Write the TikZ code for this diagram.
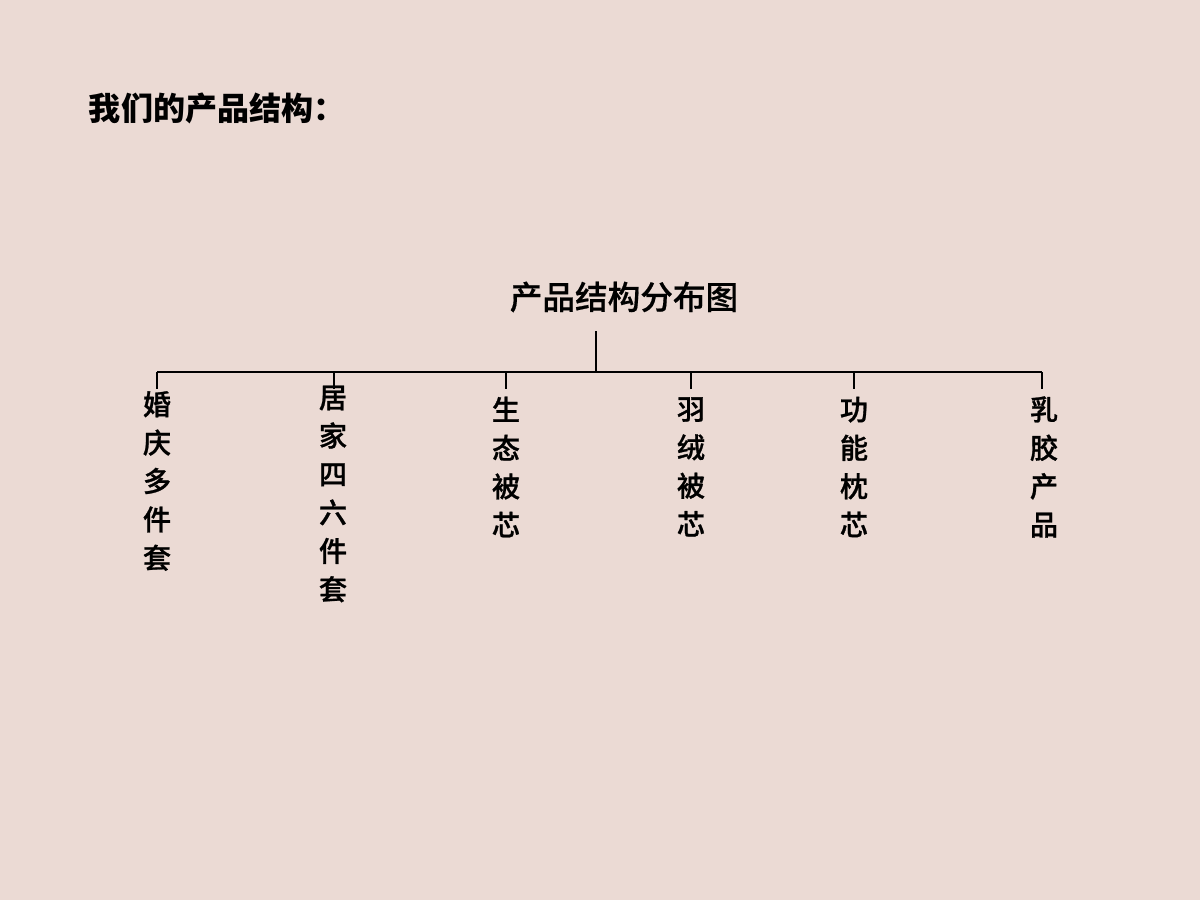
\documentclass[tikz,border=0pt]{standalone}
\usepackage{fontspec}
\usepackage{tikz}
\newfontfamily\cjk{Noto Sans CJK SC}
\newfontfamily\cjkmed[FakeBold=0.9]{Noto Sans CJK SC Medium}
\newfontfamily\cjkroot[FakeBold=0.5]{Noto Sans CJK SC Medium}
\definecolor{bgpink}{HTML}{EBDAD4}

\begin{document}
\begin{tikzpicture}[x=0.025cm, y=-0.025cm, line width=1.4pt,
    item/.style={font=\cjkmed\fontsize{20}{27.3}\selectfont, align=center, inner sep=0pt}]

        \fill [bgpink] (0,0) rectangle (1200,900);
        \useasboundingbox (0,0) rectangle (1200,900);

        \node [anchor=west, inner sep=0pt, font=\cjk\bfseries\fontsize{22.8}{25}\selectfont] (title) at (88,108) {我们的产品结构：};

        \node [inner sep=0pt, font=\cjkroot\fontsize{23.2}{26}\selectfont] (root) at (624,297) {产品结构分布图};

        \coordinate (stemtop) at (596,331);
        \coordinate (hub) at (596,372);
        \coordinate (busleft) at (157,372);
        \coordinate (busright) at (1042,372);

        \node [item] (hunqing) at (157,481) {婚\\庆\\多\\件\\套};
        \node [item] (jujia) at (333,494) {居\\家\\四\\六\\件\\套};
        \node [item] (shengtai) at (506,467) {生\\态\\被\\芯};
        \node [item] (yurong) at (691,467) {羽\\绒\\被\\芯};
        \node [item] (gongneng) at (854,467) {功\\能\\枕\\芯};
        \node [item] (rujiao) at (1044,467) {乳\\胶\\产\\品};

        \coordinate (b1) at (157,389);
        \coordinate (b2) at (334,389);
        \coordinate (b3) at (506,389);
        \coordinate (b4) at (691,389);
        \coordinate (b5) at (854,389);
        \coordinate (b6) at (1042,389);

        \draw (stemtop) -- (hub);
        \draw (busleft) -- (busright);
        \foreach \b in {b1,b2,b3,b4,b5,b6}
            \draw (\b |- hub) -- (\b);

\end{tikzpicture}
\end{document}
